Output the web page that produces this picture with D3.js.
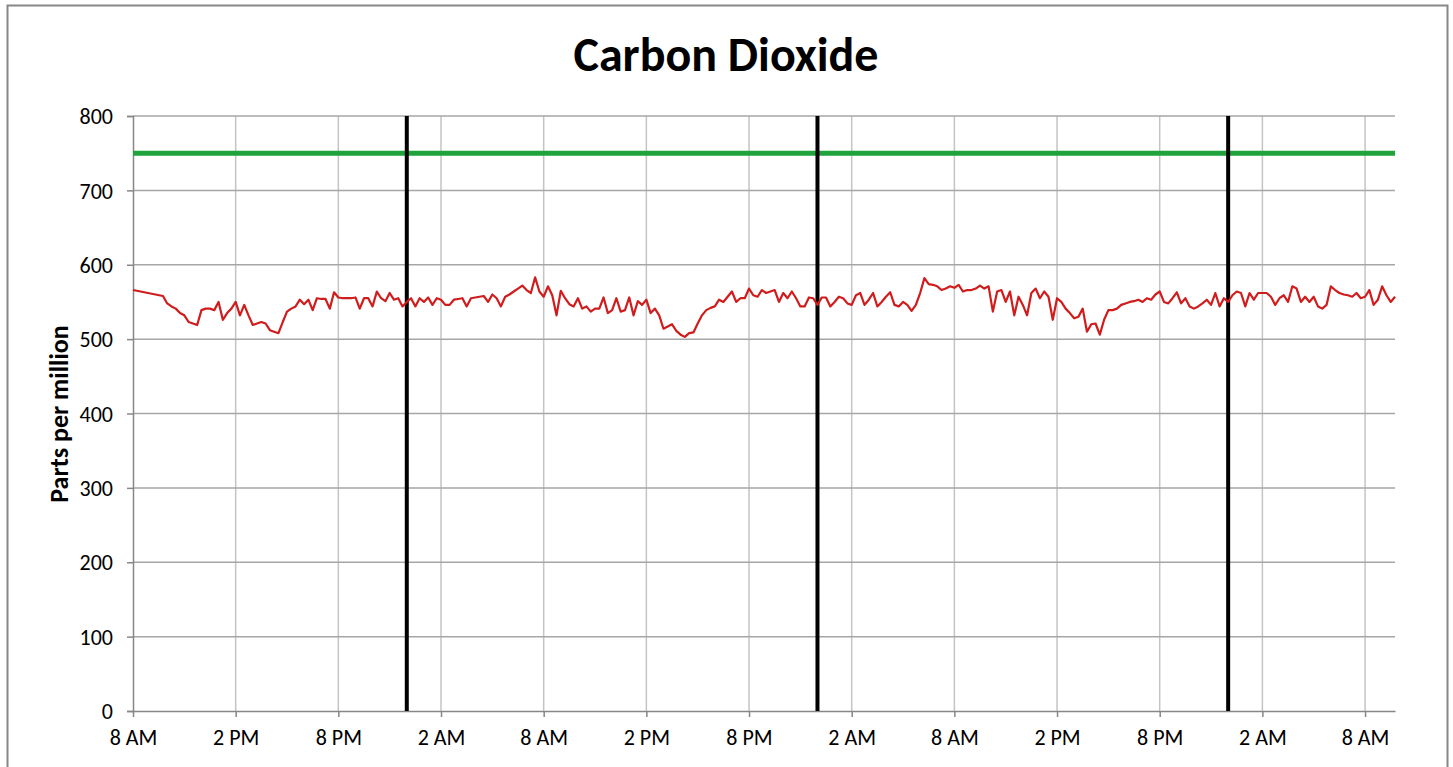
<!DOCTYPE html>
<html>
<head>
<meta charset="utf-8">
<script src="https://cdn.jsdelivr.net/npm/d3@7"></script>
<style>
  html, body { margin: 0; padding: 0; background: #fff; }
  svg { display: block; }
  text { font-family: Carlito, Lato, "Open Sans", sans-serif; fill: #000; }
</style>
</head>
<body>
<svg id="chart" width="1453" height="767"></svg>
<script>
// ---------------- data ----------------
const chartTitle = "Carbon Dioxide";
const yAxisTitle = "Parts per million";
const startTime = "2013-01-07T08:00:00";   // first reading (8 AM)
const firstReading = 566;
const sampleStartHours = 1.75;               // regular readings start 9:45 AM
const sampleStepMinutes = 15;
const endHours = 73.75;

const co2Part1 = [558,548,544,541,535,532,523,521,519,539,541,541,539,550,526,535,541,550,532,546,532,519,521,523,521,512,510,508,523,537,541,544,553,547,553,539,555,554,554,541,563,556,555];
const co2Part2 = [555,555,556,541,555,555,544,564,555,551,562,553,555,544,550,555,544,555,550,556,546,555,553,546,546,553,554,555,544,555,556,557,558,550,560,555,544,557,560,564,568,572,566,562,583,564,557,571,559,532];
const co2Part3 = [565,555,547,544,555,541,544,537,541,541,556,535,539,555,537,539,556,532,551,546,553,535,541,532,514,517,520,511,506,503,508,509,521,532,539,542,544,553,550,557,564,550,555,555,568,559,557,566,562,564];
const co2Part4 = [566,550,562,555,564,555,544,544,556,555,546,556,556,544,550,557,555,548,546,559,562,546,553,562,544,550,557,563,546,544,550,546,538,546,562,582,574,573,571,566,568,571,569,573,564,566,566,568,572,568,571];
const co2Part5 = [537,564,566,550,564,532,557,546,532,562,568,555,564,557,526,555,550,541,535,528,530,541,510,520,521,506,526,539,539,541,546,548,550,551,553,550,555,553,560,564,550,548,555,563,548,555,544,541,544,548];
const co2Part6 = [553,546,562,544,555,550,559,564,562,544,562,553,562,562,562,557,546,555,559,550,571,568,550,557,550,557,544,541,546,571,566,562,560,559,557,562,555,557,566,546,553,571,559,550,557];

const yTicks = [0,100,200,300,400,500,600,700,800];
const xTickHours = [0,6,12,18,24,30,36,42,48,54,60,66,72];
const xTickLabels = ["8 AM","2 PM","8 PM","2 AM","8 AM","2 PM","8 PM","2 AM","8 AM","2 PM","8 PM","2 AM","8 AM"];
const midnightMarkers = ["2013-01-08T00:00:00","2013-01-09T00:00:00","2013-01-10T00:00:00"];
const limitValue = 750;

// ---------------- build ----------------
const HOUR = 3600e3;
const t0 = new Date(startTime);
const at = h => new Date(t0.getTime() + h * HOUR);
const values = [].concat(co2Part1, co2Part2, co2Part3, co2Part4, co2Part5, co2Part6);
const points = [{ date: t0, v: firstReading }].concat(
  values.map((v, i) => ({ date: at(sampleStartHours + i * sampleStepMinutes / 60), v }))
);

const svg = d3.select("#chart");
const L = 133, R = 1395, T = 116, B = 711;

const x = d3.scaleTime().domain([t0, at(endHours)]).range([L, R]);
const y = d3.scaleLinear().domain([0, 800]).range([B, T]);

// outer frame
svg.append("rect").attr("x", 7.5).attr("y", 5.5).attr("width", 1440).attr("height", 820)
  .attr("fill", "#fff").attr("stroke", "#878787").attr("stroke-width", 2);

// title
svg.append("text").attr("x", 726).attr("y", 71).attr("text-anchor", "middle")
  .attr("font-size", 48).attr("font-weight", "bold").text(chartTitle);

// vertical gridlines
svg.append("g").selectAll("line").data(xTickHours.slice(1)).join("line")
  .attr("x1", d => x(at(d))).attr("x2", d => x(at(d)))
  .attr("y1", T).attr("y2", B)
  .attr("stroke", "#c4c4c4").attr("stroke-width", 1.5);

// horizontal gridlines
svg.append("g").selectAll("line").data(yTicks.slice(1)).join("line")
  .attr("x1", L).attr("x2", R)
  .attr("y1", d => y(d)).attr("y2", d => y(d))
  .attr("stroke", "#a6a6a6").attr("stroke-width", 1.5);

// y axis
const yAxis = d3.axisLeft(y).tickValues(yTicks).tickSize(6).tickPadding(14);
const gy = svg.append("g").attr("transform", `translate(${L},0)`).call(yAxis);
gy.select(".domain").attr("stroke", "#878787").attr("stroke-width", 1.5);
gy.selectAll(".tick line").attr("stroke", "#878787").attr("stroke-width", 1.5);
gy.selectAll(".tick text").attr("font-size", 22).attr("font-family", "Carlito, Lato, sans-serif").attr("dy", "0.35em");

// x axis
const xAxis = d3.axisBottom(x).tickValues(xTickHours.map(at))
  .tickFormat((d, i) => xTickLabels[i]).tickSize(6).tickSizeOuter(0).tickPadding(12);
const gx = svg.append("g").attr("transform", `translate(0,${B})`).call(xAxis);
gx.select(".domain").attr("stroke", "#878787").attr("stroke-width", 1.5);
gx.selectAll(".tick line").attr("stroke", "#878787").attr("stroke-width", 1.5);
gx.selectAll(".tick text").attr("font-size", 22).attr("font-family", "Carlito, Lato, sans-serif");

// y axis title
svg.append("text").attr("transform", `translate(68,414) rotate(-90)`)
  .attr("text-anchor", "middle").attr("font-size", 26).attr("font-weight", "bold").text(yAxisTitle);

// limit line
svg.append("line").attr("x1", L).attr("x2", R)
  .attr("y1", y(limitValue)).attr("y2", y(limitValue))
  .attr("stroke", "#1fa33b").attr("stroke-width", 5);

// midnight markers
svg.append("g").selectAll("line").data(midnightMarkers).join("line")
  .attr("x1", d => x(new Date(d))).attr("x2", d => x(new Date(d)))
  .attr("y1", T).attr("y2", B)
  .attr("stroke", "#000").attr("stroke-width", 4);

// CO2 line
svg.append("path").datum(points)
  .attr("fill", "none").attr("stroke", "#d01c1c").attr("stroke-width", 2.2)
  .attr("stroke-linejoin", "round")
  .attr("d", d3.line().x(d => x(d.date)).y(d => y(d.v)));
</script>
</body>
</html>
